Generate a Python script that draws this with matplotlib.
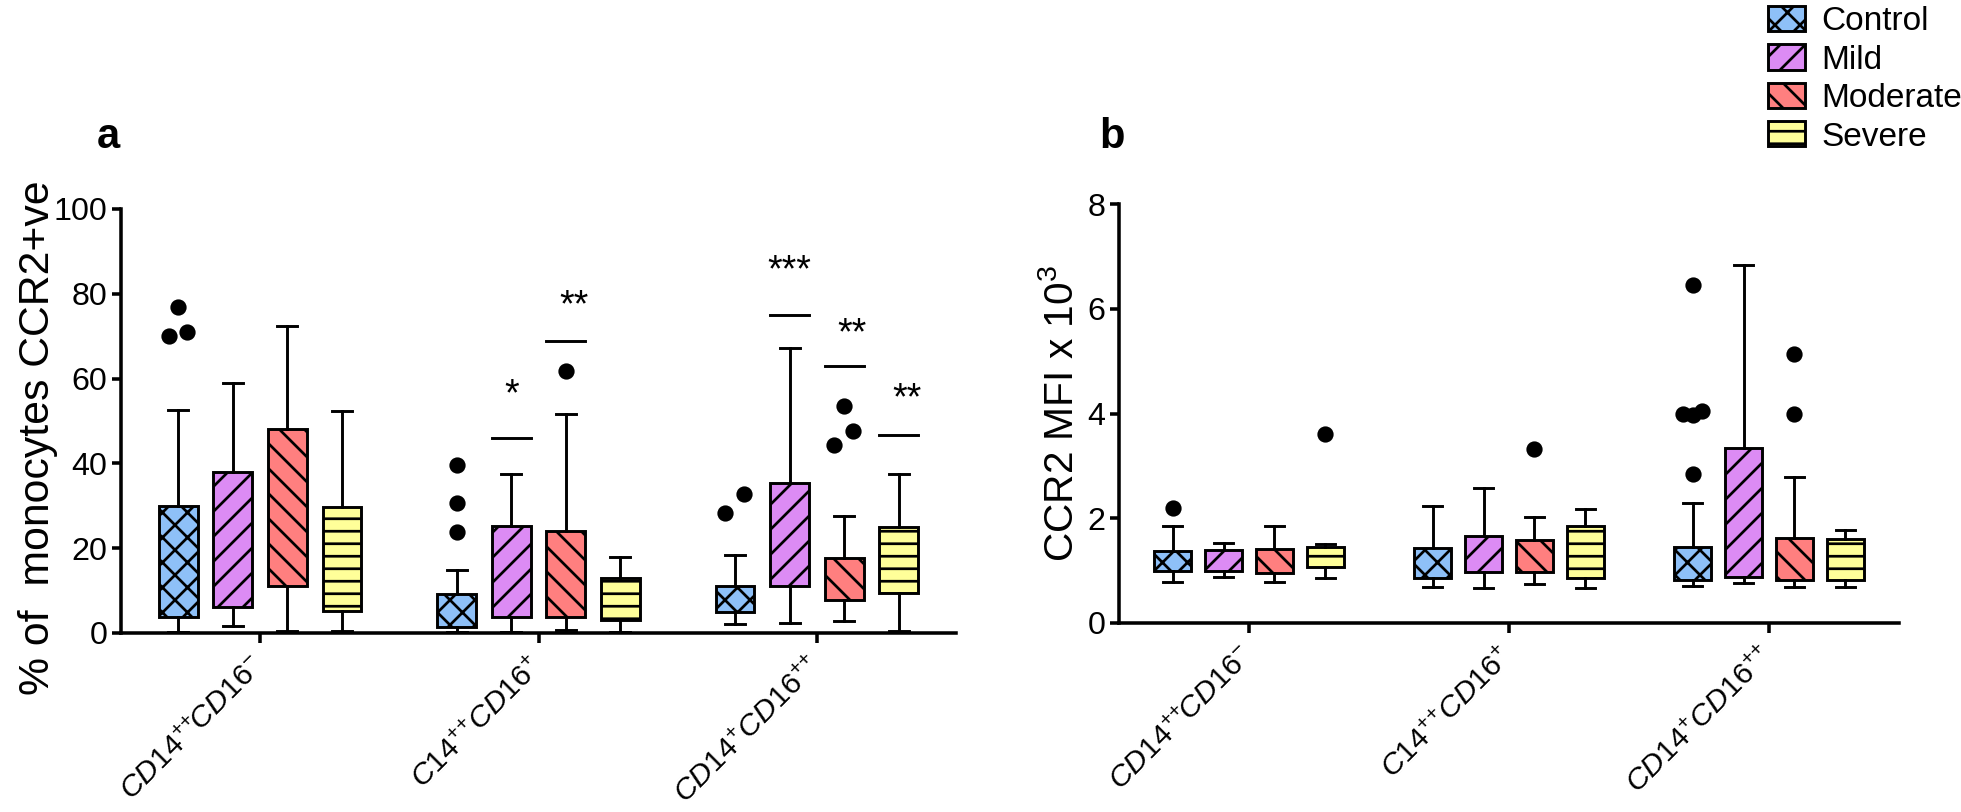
"""
CCR2 expression on monocyte subsets, box plots by severity group
"""
import matplotlib
matplotlib.use("Agg")
import matplotlib.pyplot as plt
from matplotlib.patches import Patch

plt.rcParams["font.family"] = ["Liberation Sans", "DejaVu Sans"]
plt.rcParams["mathtext.fontset"] = "custom"
plt.rcParams["mathtext.rm"] = "Liberation Sans"
plt.rcParams["mathtext.it"] = "Liberation Sans:italic"
plt.rcParams["hatch.linewidth"] = 1.3

groups = ["Control", "Mild", "Moderate", "Severe"]
categories = [r"$\mathit{CD14^{{+}{+}}\!CD16^{{-}}}$", r"$\mathit{C14^{{+}{+}}CD16^{{+}}}$",
              r"$\mathit{CD14^{{+}}CD16^{{+}{+}}}$"]

# panel a: % of monocytes CCR2+ve  (rows = group, cols = subset)
a_q1 = [[3.8, 1.3, 4.9], [6.1, 3.8, 11.2], [11.1, 3.8, 7.7], [5.3, 3.0, 9.5]]
a_med = [[14.0, 4.0, 8.0], [20.0, 12.0, 22.0], [28.0, 11.0, 12.0], [15.0, 7.0, 16.0]]
a_q3 = [[29.9, 9.1, 11.2], [37.9, 25.2, 35.4], [48.2, 24.0, 17.7], [29.7, 12.9, 25.0]]
a_lo = [[0.3, 0.3, 2.2], [1.7, 0.3, 2.4], [0.5, 0.7, 2.8], [0.5, 0.3, 0.4]]
a_hi = [[52.7, 14.9, 18.4], [59.0, 37.5, 67.3], [72.3, 51.7, 27.7], [52.4, 18.0, 37.5]]
a_fliers = [
    [[77.0, 70.0, 71.0], [39.6, 30.7, 23.8], [28.3, 32.7]],
    [[], [], []],
    [[], [61.9], [53.5, 47.6, 44.3]],
    [[], [], []],
]
a_flier_dodge = [
    [[0, -0.035, 0.03], [0, 0, 0], [-0.035, 0.033]],
    [[], [], []],
    [[], [0], [0, 0.033, -0.035]],
    [[], [], []],
]
# significance marks: (subset, group, bar level, stars, star level)
a_sig = [(1, 1, 45.9, "*", 51.8), (1, 2, 68.8, "**", 72.8),
         (2, 1, 75.0, "***", 81.0), (2, 2, 63.0, "**", 66.2), (2, 3, 46.8, "**", 50.8)]

# panel b: CCR2 MFI x 10^3
b_q1 = [[1.0, 0.85, 0.82], [1.0, 0.97, 0.88], [0.95, 0.97, 0.82], [1.06, 0.85, 0.83]]
b_med = [[1.2, 1.1, 1.1], [1.2, 1.3, 1.9], [1.2, 1.3, 1.2], [1.27, 1.3, 1.2]]
b_q3 = [[1.38, 1.43, 1.45], [1.40, 1.67, 3.35], [1.42, 1.58, 1.63], [1.46, 1.85, 1.61]]
b_lo = [[0.78, 0.68, 0.71], [0.87, 0.66, 0.77], [0.78, 0.75, 0.68], [0.85, 0.66, 0.68]]
b_hi = [[1.85, 2.23, 2.29], [1.52, 2.57, 6.84], [1.86, 2.02, 2.78], [1.50, 2.18, 1.77]]
b_fliers = [
    [[2.2], [], [6.45, 4.0, 4.05, 3.98, 2.85]],
    [[], [], []],
    [[], [3.32], [5.13, 4.0]],
    [[3.61], [], []],
]
b_flier_dodge = [
    [[0], [], [0, -0.035, 0.035, 0, 0]],
    [[], [], []],
    [[], [0], [0, 0]],
    [[0], [], []],
]

colors = ["#8ec0f8", "#dc8bf4", "#ff7f7f", "#ffff99"]
hatches = ["xx", "//", "\\\\", "--"]
offsets = [-0.294, -0.098, 0.098, 0.294]

W, H = 1961, 812
fig = plt.figure(figsize=(W / 150, H / 150), dpi=150)
axa = fig.add_axes([121 / W, 1 - 633 / H, (956 - 121) / W, (633 - 209) / H])
axb = fig.add_axes([1119 / W, 1 - 623 / H, (1899 - 1119) / W, (623 - 204) / H])


def draw_panel(ax, q1, med, q3, lo, hi, fliers, dodge):
    for g in range(len(groups)):
        stats = []
        for c in range(len(categories)):
            stats.append(dict(q1=q1[g][c], med=med[g][c], q3=q3[g][c],
                              whislo=lo[g][c], whishi=hi[g][c], fliers=[]))
        pos = [c + 0.5 + offsets[g] for c in range(len(categories))]
        ax.bxp(stats, positions=pos, widths=0.14, patch_artist=True,
               showfliers=False, manage_ticks=False, capwidths=0.072,
               boxprops=dict(facecolor=colors[g], edgecolor="black",
                             linewidth=1.4, hatch=hatches[g]),
               whiskerprops=dict(color="black", linewidth=1.4),
               capprops=dict(color="black", linewidth=1.4),
               medianprops=dict(linewidth=0))
        for c in range(len(categories)):
            for v, dx in zip(fliers[g][c], dodge[g][c]):
                ax.plot(pos[c] + dx, v, "o", color="black", ms=6.8, zorder=5)

    ax.set_xlim(0, 3)
    ax.set_xticks([0.5, 1.5, 2.5])
    ax.set_xticklabels(categories, rotation=45, ha="right", va="center",
                       rotation_mode="anchor", fontsize=14.5)
    for side in ["top", "right"]:
        ax.spines[side].set_visible(False)
    for side in ["left", "bottom"]:
        ax.spines[side].set_linewidth(1.7)
    ax.tick_params(axis="x", length=5, width=1.7, pad=9)
    ax.tick_params(axis="y", length=4.5, width=1.7, labelsize=15.5, pad=2)


draw_panel(axa, a_q1, a_med, a_q3, a_lo, a_hi, a_fliers, a_flier_dodge)
draw_panel(axb, b_q1, b_med, b_q3, b_lo, b_hi, b_fliers, b_flier_dodge)

axa.set_ylim(0, 100)
axa.set_yticks(range(0, 101, 20))
axa.set_ylabel("% of  monocytes CCR2+ve", fontsize=20.5)
axa.yaxis.set_label_coords(-0.076, 0.46)

axb.set_ylim(0, 8)
axb.set_yticks(range(0, 9, 2))
axb.set_ylabel(r"CCR2 MFI x 10$^{\mathregular{3}}$", fontsize=19.5)
axb.yaxis.set_label_coords(-0.049, 0.5)

for c, g, lvl, stars, slvl in a_sig:
    x = c + 0.5 + offsets[g]
    axa.plot([x - 0.07, x + 0.07], [lvl, lvl], color="black", lw=1.4)
    axa.text(x + (0.03 if len(stars) == 2 else 0), slvl, stars, ha="center",
             va="bottom", fontsize=18)

fig.text(108 / W, 1 - 148 / H, "a", fontsize=20, fontweight="bold",
         ha="center", va="baseline")
fig.text(1112 / W, 1 - 148 / H, "b", fontsize=20, fontweight="bold",
         ha="center", va="baseline")

handles = [Patch(facecolor=colors[g], edgecolor="black", hatch=hatches[g],
                 linewidth=1.4) for g in range(len(groups))]
fig.legend(handles, groups, loc="upper left", bbox_to_anchor=(1768 / W, 1 - 6 / H),
           frameon=False, fontsize=16, borderpad=0, borderaxespad=0,
           handlelength=1.1, handleheight=0.78, handletextpad=0.5,
           labelspacing=0.22)

fig.savefig("out.png", dpi=150)
